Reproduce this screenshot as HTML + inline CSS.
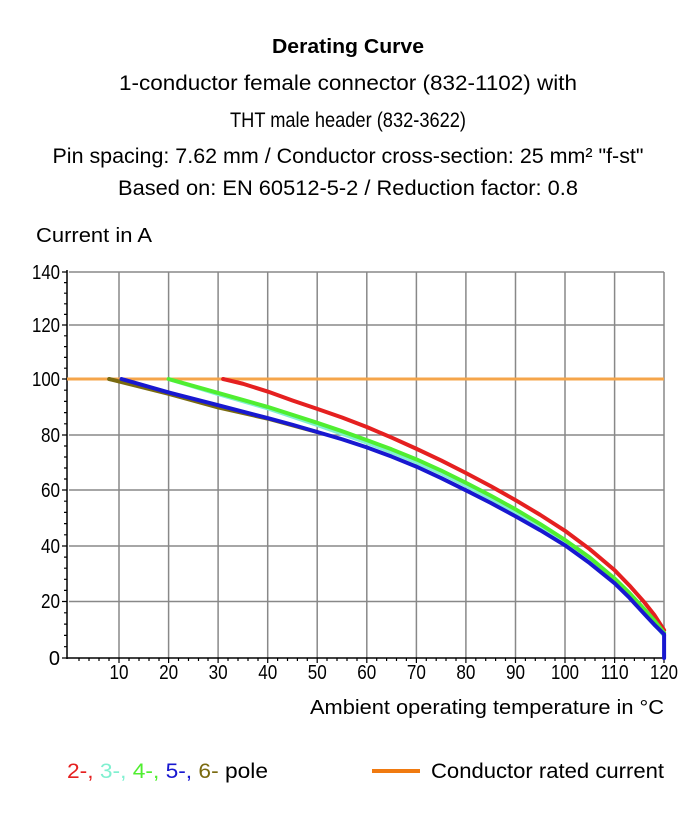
<!DOCTYPE html>
<html><head><style>
html,body{margin:0;padding:0;background:#fff;}
svg{display:block;font-family:"Liberation Sans Narrow","Liberation Sans",sans-serif;}
</style></head><body>
<svg width="697" height="817" viewBox="0 0 697 817">
<g fill="#000" text-anchor="middle">
<text x="348" y="53" font-size="20" font-weight="bold" textLength="152" lengthAdjust="spacingAndGlyphs">Derating Curve</text>
<text x="348" y="90" font-size="21" textLength="458" lengthAdjust="spacingAndGlyphs">1-conductor female connector (832-1102) with</text>
<text x="348" y="127" font-size="21" textLength="236" lengthAdjust="spacingAndGlyphs">THT male header (832-3622)</text>
<text x="348" y="163" font-size="21" textLength="591" lengthAdjust="spacingAndGlyphs">Pin spacing: 7.62 mm / Conductor cross-section: 25 mm² "f-st"</text>
<text x="348" y="195" font-size="21" textLength="460" lengthAdjust="spacingAndGlyphs">Based on: EN 60512-5-2 / Reduction factor: 0.8</text>
</g>
<text x="36" y="242" font-size="20" textLength="116" lengthAdjust="spacingAndGlyphs">Current in A</text>
<g stroke="#888" stroke-width="1.5">
<line x1="119" y1="272" x2="119" y2="658"/><line x1="168.6" y1="272" x2="168.6" y2="658"/><line x1="218.1" y1="272" x2="218.1" y2="658"/><line x1="267.7" y1="272" x2="267.7" y2="658"/><line x1="317.2" y1="272" x2="317.2" y2="658"/><line x1="366.8" y1="272" x2="366.8" y2="658"/><line x1="416.4" y1="272" x2="416.4" y2="658"/><line x1="465.9" y1="272" x2="465.9" y2="658"/><line x1="515.5" y1="272" x2="515.5" y2="658"/><line x1="565" y1="272" x2="565" y2="658"/><line x1="614.6" y1="272" x2="614.6" y2="658"/><line x1="664" y1="272" x2="664" y2="658"/>
<line x1="69" y1="272" x2="664" y2="272"/><line x1="69" y1="325" x2="664" y2="325"/><line x1="69" y1="379" x2="664" y2="379"/><line x1="69" y1="435" x2="664" y2="435"/><line x1="69" y1="490" x2="664" y2="490"/><line x1="69" y1="546" x2="664" y2="546"/><line x1="69" y1="601.5" x2="664" y2="601.5"/>
</g>
<g stroke="#000" stroke-width="1.5">
<line x1="67" y1="270" x2="67" y2="659"/>
<line x1="67" y1="658" x2="665" y2="658"/>
</g>
<g stroke="#000" stroke-width="1.2">
<path d="M62 272h5M62 325h5M62 379h5M62 435h5M62 490h5M62 546h5M62 601.5h5M62 658h5"/>
<path d="M64 282.6h3M64 293.2h3M64 303.8h3M64 314.4h3M64 335.8h3M64 346.6h3M64 357.4h3M64 368.2h3M64 390.2h3M64 401.4h3M64 412.6h3M64 423.8h3M64 446h3M64 457h3M64 468h3M64 479h3M64 501.2h3M64 512.4h3M64 523.6h3M64 534.8h3M64 557.1h3M64 568.2h3M64 579.3h3M64 590.4h3M64 612.8h3M64 624.1h3M64 635.4h3M64 646.7h3"/>
</g>
<g stroke="#000" stroke-width="1.2">
<path d="M79 658v3M89 658v3M99 658v3M109 658v3M129 658v3M139 658v3M149 658v3M159 658v3M178.5 658v3M188.5 658v3M198.5 658v3M208 658v3M228 658v3M238 658v3M248 658v3M258 658v3M277.6 658v3M287.5 658v3M297.4 658v3M307.3 658v3M327 658v3M337 658v3M347 658v3M357 658v3M376.7 658v3M386.6 658v3M396.5 658v3M406.4 658v3M426.3 658v3M436.2 658v3M446 658v3M456 658v3M475.8 658v3M485.7 658v3M495.6 658v3M505.5 658v3M525.4 658v3M535.3 658v3M545.2 658v3M555 658v3M575 658v3M585 658v3M595 658v3M604.7 658v3M624.5 658v3M634.4 658v3M644.3 658v3M654.2 658v3"/>
<path d="M119 658v5M168.6 658v5M218.1 658v5M267.7 658v5M317.2 658v5M366.8 658v5M416.4 658v5M465.9 658v5M515.5 658v5M565 658v5M614.6 658v5M664 658v5"/>
</g>
<g font-size="20" text-anchor="end">
<text x="60" y="279" textLength="28" lengthAdjust="spacingAndGlyphs">140</text><text x="60" y="332" textLength="28" lengthAdjust="spacingAndGlyphs">120</text><text x="60" y="386" textLength="28" lengthAdjust="spacingAndGlyphs">100</text><text x="60" y="442" textLength="19" lengthAdjust="spacingAndGlyphs">80</text><text x="60" y="497" textLength="19" lengthAdjust="spacingAndGlyphs">60</text><text x="60" y="553" textLength="19" lengthAdjust="spacingAndGlyphs">40</text><text x="60" y="608" textLength="19" lengthAdjust="spacingAndGlyphs">20</text><text x="60" y="665">0</text>
</g>
<g font-size="20" text-anchor="middle">
<text x="119" y="679" textLength="19" lengthAdjust="spacingAndGlyphs">10</text><text x="168.6" y="679" textLength="19" lengthAdjust="spacingAndGlyphs">20</text><text x="218.1" y="679" textLength="19" lengthAdjust="spacingAndGlyphs">30</text><text x="267.7" y="679" textLength="19" lengthAdjust="spacingAndGlyphs">40</text><text x="317.2" y="679" textLength="19" lengthAdjust="spacingAndGlyphs">50</text><text x="366.8" y="679" textLength="19" lengthAdjust="spacingAndGlyphs">60</text><text x="416.4" y="679" textLength="19" lengthAdjust="spacingAndGlyphs">70</text><text x="465.9" y="679" textLength="19" lengthAdjust="spacingAndGlyphs">80</text><text x="515.5" y="679" textLength="19" lengthAdjust="spacingAndGlyphs">90</text><text x="565" y="679" textLength="28" lengthAdjust="spacingAndGlyphs">100</text><text x="614.6" y="679" textLength="28" lengthAdjust="spacingAndGlyphs">110</text><text x="664" y="679" textLength="28" lengthAdjust="spacingAndGlyphs">120</text>
</g>
<text x="664" y="714" font-size="20" text-anchor="end" textLength="354" lengthAdjust="spacingAndGlyphs">Ambient operating temperature in °C</text>
<line x1="67" y1="379" x2="664" y2="379" stroke="#f5a54a" stroke-width="3"/>
<g fill="none" stroke-width="4" stroke-linejoin="round" stroke-linecap="round" transform="matrix(4.955 0 0 -2.79 69.5 658)">
<polyline vector-effect="non-scaling-stroke" stroke="#7a6a10" points="8,100 20,94.7 30,89.8 40,85.8 50,81"/>
<polyline vector-effect="non-scaling-stroke" stroke="#e52020" points="31,100 35,98.3 40,95.5 45,92.3 50,89.3 55,86.2 60,82.8 65,79 70,75 75,70.8 80,66.3 85,61.6 90,56.6 95,51.3 100,45.6 105,39 110,31.5 113,26 116,20 118,15.5 120,10"/>
<polyline vector-effect="non-scaling-stroke" stroke="#80f0d0" points="20,100 30,94.6 40,89.5 50,83.5 55,80.4 60,77.2 65,73.8 70,70.2 75,66.2 80,61.8 85,57.2 90,52.3 95,47 100,41.3 105,35 110,27.5 113,22.3 116,16.5 118,12.5 120,8"/>
<polyline vector-effect="non-scaling-stroke" stroke="#50ee30" points="20,100 30,95 40,90 50,84.3 55,81.3 60,78.1 65,74.8 70,71.2 75,67.2 80,62.8 85,58.2 90,53.3 95,48 100,42.3 105,36 110,28.5 113,23.3 116,17.5 118,13.5 120,9"/>
<polyline vector-effect="non-scaling-stroke" stroke="#1818d0" points="10.5,100 20,95.2 30,90.6 40,86 45,83.6 50,81 55,78.4 60,75.5 65,72.2 70,68.6 75,64.5 80,60.1 85,55.6 90,50.8 95,45.8 100,40.4 105,34 110,26.8 113,21.6 116,15.8 118,12 120,8.5 120,0"/>
</g>
<text x="67" y="778" font-size="21" textLength="201" lengthAdjust="spacingAndGlyphs"><tspan fill="#e52020">2-, </tspan><tspan fill="#80f0d0">3-, </tspan><tspan fill="#50ee30">4-, </tspan><tspan fill="#1818d0">5-, </tspan><tspan fill="#7a6a10">6-</tspan><tspan fill="#000">  pole</tspan></text>
<line x1="372" y1="771" x2="420" y2="771" stroke="#f07a10" stroke-width="4"/>
<text x="431" y="778" font-size="21" textLength="233" lengthAdjust="spacingAndGlyphs">Conductor rated current</text>
</svg>
</body></html>
